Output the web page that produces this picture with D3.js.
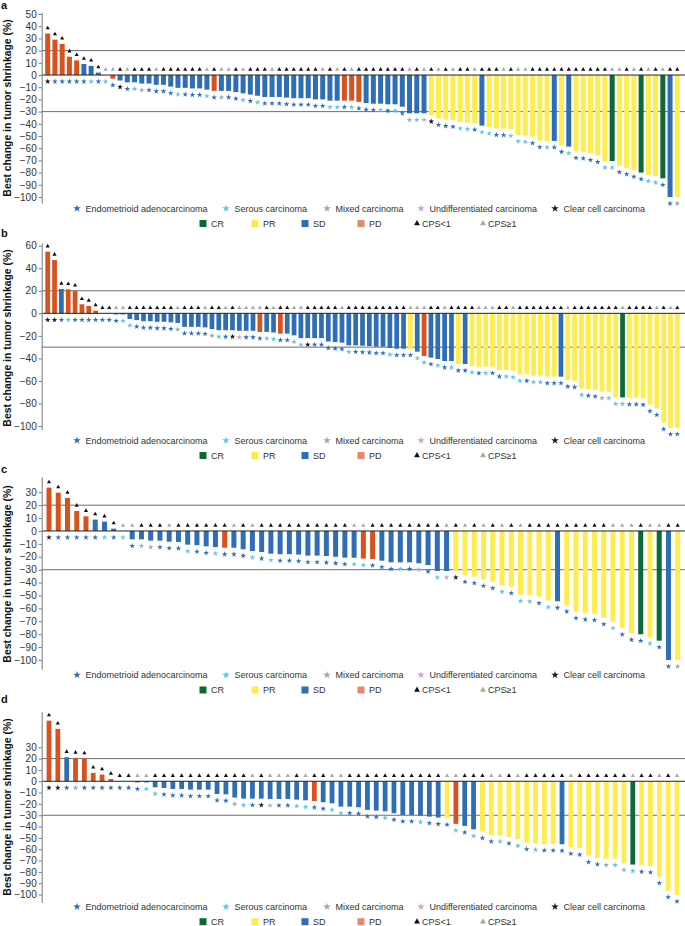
<!DOCTYPE html>
<html>
<head>
<meta charset="utf-8">
<title>Best change in tumor shrinkage</title>
<script src="https://cdn.jsdelivr.net/npm/d3@7"></script>
<style>
  body { margin: 0; background: #fff; }
  svg { display: block; font-family: "Liberation Sans", Arial, sans-serif; }
  .axis .tick text { font-size: 10px; fill: #333; }
  .axis path, .axis line { stroke: #777; }
  .legend text { font-size: 9px; fill: #333; }
</style>
</head>
<body>
<svg id="chart" width="685" height="926"></svg>
<script>
// ---- panel a ----
const aValues = [34,29,25.5,15,12,9,7.5,2,0,-3,
  -4.5,-6,-6,-7,-7,-8,-8,-9.5,-10.5,-10.5,
  -11,-11,-12,-13,-13,-13,-14,-15,-16,-17,
  -18,-18,-18,-18.5,-19,-19,-19,-20,-20,-21,
  -21,-21,-21,-22,-23,-23.5,-23.5,-24,-24,-26,
  -31.4,-31.4,-31.4,-32.8,-35.5,-36.5,-37,-38.5,-39,-39.5,
  -41.5,-42.6,-43.7,-44,-44.5,-49,-49.5,-50.5,-53.8,-54,
  -54,-57.6,-58.7,-62.6,-63,-64.3,-66,-70.5,-70.5,-74.3,
  -76,-78,-80,-81.7,-82.8,-84.7,-100,-100];
const aResponse = ["PD","PD","PD","PD","PD","SD","SD","SD","SD","PD",
  "SD","SD","SD","SD","SD","SD","SD","SD","SD","SD",
  "SD","SD","SD","PD","SD","SD","SD","SD","SD","SD",
  "SD","SD","SD","SD","SD","SD","SD","SD","SD","SD",
  "SD","PD","PD","PD","SD","SD","SD","SD","SD","SD",
  "SD","SD","SD","PR","PR","PR","PR","PR","PR","PR",
  "SD","PR","PR","PR","PR","PR","PR","PR","PR","PR",
  "SD","PR","SD","PR","PR","PR","PR","PR","CR","PR",
  "PR","PR","CR","PR","PR","CR","SD","PR"];
const aHistology = ["C","E","E","E","E","E","S","E","S","E",
  "C","E","S","M","E","E","E","E","S","E",
  "E","E","S","E","M","E","E","S","E","S",
  "E","E","E","E","E","E","E","E","E","S",
  "S","E","S","E","E","E","S","E","S","E",
  "S","S","U","C","E","E","E","S","S","E",
  "S","S","E","E","S","S","S","E","E","S",
  "E","E","S","E","E","E","E","S","S","E",
  "E","E","E","S","S","E","E","M"];
const aCps = [0,0,0,0,0,0,0,0,1,1, 0,1,0,0,0,1,0,0,0,0, 0,0,1,0,1,1,0,1,0,0,
  0,1,0,0,0,0,0,0,1,0, 1,0,1,0,0,0,0,0,0,0, 1,0,1,0,1,0,1,0,0,1,
  0,0,0,1,0,1,1,0,0,0, 0,0,0,0,0,0,0,0,1,1, 0,1,0,1,0,1,0,0];
const aTicks = [50,40,30,20,10,0,-10,-20,-30,-40,-50,-60,-70,-80,-90,-100];

// ---- panel b ----
const bValues = [54.7,47.3,21.6,21.3,20,8,6.5,2.4,0,0,
  -1,-1,-5,-6,-7,-7,-7.5,-7.5,-8,-8.5,
  -12,-12,-12,-12.5,-14,-15,-15,-15,-15.5,-15.5,
  -15.5,-16.5,-16.5,-17,-18,-18,-19.5,-22,-22,-22,
  -22,-25,-25.5,-26,-28.4,-28.4,-28.7,-29,-29.6,-29.6,
  -30.8,-31.4,-31.4,-31.4,-34,-37.9,-39.3,-40.5,-42.3,-42.3,
  -45,-45,-46.7,-47.3,-47.3,-47.3,-50.3,-50.3,-50.9,-54.1,
  -54.1,-55.3,-55.3,-56.2,-56.2,-56.2,-59.2,-59.8,-66.6,-67.2,
  -68,-69.5,-69.5,-74.6,-74.6,-75,-75,-75.4,-81,-84.3,
  -97,-101.5,-101.5];
const bResponse = ["PD","PD","SD","PD","PD","PD","PD","PD","SD","SD",
  "SD","SD","SD","SD","SD","SD","SD","SD","SD","SD",
  "SD","SD","SD","SD","SD","SD","SD","SD","SD","SD",
  "SD","PD","SD","SD","PD","SD","SD","SD","SD","SD",
  "SD","SD","SD","SD","SD","SD","SD","SD","SD","SD",
  "SD","SD","SD","PR","SD","PD","SD","SD","SD","SD",
  "PR","SD","PR","PR","PR","PR","PR","PR","PR","PR",
  "PR","PR","PR","PR","PR","SD","PR","PR","PR","PR",
  "PR","PR","PR","PR","CR","PR","PR","PR","PR","PR",
  "PR","PR","PR"];
const bHistology = ["C","C","E","S","E","E","E","E","E","E",
  "E","S","S","E","E","E","E","E","E","M",
  "E","E","E","E","M","S","E","C","U","E",
  "E","E","S","S","E","E","S","S","C","E",
  "E","E","E","E","S","E","E","E","E","E",
  "S","E","E","E","S","S","E","S","E","S",
  "E","E","S","E","S","E","E","S","S","S",
  "E","S","S","E","E","E","E","E","S","E",
  "E","M","S","S","S","E","E","E","E","E",
  "E","E","E"];
const bCps = [0,0,0,0,0,0,0,0,0,0, 1,1,0,0,0,0,0,0,0,1, 0,0,0,1,0,0,1,0,1,1,
  1,1,0,1,0,0,1,1,0,0, 0,0,0,1,0,0,0,0,0,0, 0,0,0,1,1,1,0,0,1,0,
  0,0,0,1,1,1,0,0,1,0, 0,0,0,0,0,0,1,0,0,0, 0,0,0,0,1,0,0,0,0,1, 0,1,0];
const bTicks = [60,40,20,0,-20,-40,-60,-80,-100];

// ---- panel c ----
const cValues = [33.6,29.7,25.6,15.5,11.4,8.8,7.2,1.8,0,-6.5,
  -6.5,-7.5,-7.5,-8.3,-8.5,-10.6,-11,-11.9,-12.4,-13,
  -13,-14.2,-15.5,-16.3,-17.6,-18,-18,-18.3,-19.1,-19.1,
  -19.4,-20,-20.7,-20.7,-21.4,-21.7,-23,-24.3,-24.3,-24.3,
  -25,-26.4,-31,-31,-31,-34.4,-35.4,-37.5,-39.3,-42.1,
  -43.2,-49.4,-49.6,-50.9,-54,-54.5,-57.4,-62.5,-63.6,-64.1,
  -67.2,-70.3,-75.2,-79.3,-80.1,-82.2,-85,-100,-100];
const cResponse = ["PD","PD","PD","PD","PD","SD","SD","SD","SD","SD",
  "SD","SD","SD","SD","SD","SD","SD","SD","SD","PD",
  "SD","SD","SD","SD","SD","SD","SD","SD","SD","SD",
  "SD","SD","SD","SD","PD","PD","SD","SD","SD","SD",
  "SD","SD","SD","SD","PR","PR","PR","PR","PR","PR",
  "PR","PR","PR","PR","PR","SD","PR","PR","PR","PR",
  "PR","PR","PR","PR","CR","PR","CR","SD","PR"];
const cHistology = ["C","E","E","E","E","E","S","E","S","E",
  "S","M","E","E","E","S","E","E","S","E",
  "E","E","S","E","S","E","E","E","E","E",
  "E","E","E","S","S","E","E","E","S","E",
  "S","E","S","U","C","E","E","E","E","S",
  "E","S","S","E","S","E","E","E","E","E",
  "E","S","E","E","E","S","E","E","M"];
const cCps = [0,0,0,0,0,0,0,0,1,1, 0,0,0,1,0,0,0,0,0,0, 1,0,1,0,0,0,0,0,0,0,
  0,0,0,1,1,0,0,0,0,0, 0,0,0,1,0,1,0,1,0,1, 0,1,0,0,0,0,0,0,0,0,
  0,1,1,1,0,1,1,0,0];
const cTicks = [30,20,10,0,-10,-20,-30,-40,-50,-60,-70,-80,-90,-100];

// ---- panel d ----
const dValues = [53.5,46.2,21.2,20.6,20,7.4,5.9,2,0,0,
  -1,-1,-5.3,-5.9,-6.8,-6.8,-7.4,-7.4,-7.4,-11.2,
  -11.5,-14.4,-15.3,-15.3,-15.3,-15.6,-15.6,-15.6,-16.2,-16.8,
  -17.4,-18.5,-19.4,-22.4,-22.4,-22.9,-25.3,-25.9,-26.5,-28.2,
  -29.7,-29.7,-30.3,-31.2,-32,-32.6,-37.6,-39.4,-42.4,-44.4,
  -47.4,-47.4,-49.1,-51.2,-54.1,-54.7,-55.3,-55.3,-55.6,-58.2,
  -59.1,-65.6,-67.6,-68.2,-68.2,-72.4,-73.5,-74.1,-74.7,-84.1,
  -96.5,-100.3];
const dResponse = ["PD","PD","SD","PD","PD","PD","PD","PD","SD","SD",
  "SD","SD","SD","SD","SD","SD","SD","SD","SD","SD",
  "SD","SD","SD","SD","SD","SD","SD","SD","SD","SD",
  "PD","SD","SD","SD","SD","SD","SD","SD","SD","SD",
  "SD","SD","SD","SD","SD","PR","PD","SD","SD","PR",
  "PR","PR","PR","PR","PR","PR","PR","PR","SD","PR",
  "PR","PR","PR","PR","PR","PR","CR","PR","PR","PR",
  "PR","PR"];
const dHistology = ["C","C","E","S","E","E","E","E","E","E",
  "E","S","S","E","E","E","E","E","E","E",
  "E","M","S","E","C","U","E","E","S","S",
  "E","E","S","S","E","E","E","E","S","E",
  "E","E","S","E","E","E","S","E","S","E",
  "E","S","E","S","E","S","E","E","E","E",
  "E","E","E","M","S","S","S","E","E","E",
  "E","E"];
const dCps = [0,0,0,0,0,0,0,0,0,0, 1,1,0,0,0,0,0,0,0,0, 0,0,0,1,0,1,1,1,0,1,
  0,0,1,1,0,0,0,0,0,0, 0,0,0,0,0,1,1,0,0,0, 1,1,0,1,0,0,0,0,0,1,
  0,0,0,0,0,0,1,0,0,1, 0,1];
const dTicks = [30,20,10,0,-10,-20,-30,-40,-50,-60,-70,-80,-90,-100];

// shared
const refLines = [20, -30];
const histologyKeys = ["E","S","M","U","C"];
const histologyLabels = ["Endometrioid adenocarcinoma","Serous carcinoma","Mixed carcinoma","Undifferentiated carcinoma","Clear cell carcinoma"];
const responseKeys = ["CR","PR","SD","PD"];
const cpsLabels = ["CPS<1","CPS\u22651"];

const histColor = {E:"#2f6cc0", S:"#62c6de", M:"#a4a4a4", U:"#bca7dc", C:"#1a1a1a"};
const respColor = {CR:"#0b6a36", PR:"#ffec4f", SD:"#2f6db5", PD:"#d9511f"};
const respLegendColor = {CR:"#0b6a36", PR:"#ffec4f", SD:"#2f6db5", PD:"#e8886a"};
const cpsColor = ["#111", "#a8a8a8"];

const svg = d3.select("#chart");
svg.append("rect").attr("width", 685).attr("height", 926).attr("fill", "#fff");

const axisX = 41.7;
const star = d3.symbol().type(d3.symbolStar).size(10);
const tri = d3.symbol().type(d3.symbolTriangle).size(7.5);
const legStar = d3.symbol().type(d3.symbolStar).size(18);
const legTri = d3.symbol().type(d3.symbolTriangle).size(15);

const panels = [
  {label:"a", values:aValues, response:aResponse, histology:aHistology, cps:aCps, ticks:aTicks,
   xFirst:47.7, xLast:677.3, pad:0.31, vTop:51.5, vBottom:-105, pxTop:12.2, pxBottom:203.1,
   labelY:8.5, titleY:108, legendY:208.5},
  {label:"b", values:bValues, response:bResponse, histology:bHistology, cps:bCps, ticks:bTicks,
   xFirst:47.7, xLast:677.3, pad:0.31, vTop:62.4, vBottom:-103, pxTop:243, pxBottom:429.4,
   labelY:237, titleY:338, legendY:440.5},
  {label:"c", values:cValues, response:cResponse, histology:cHistology, cps:cCps, ticks:cTicks,
   xFirst:49, xLast:677.7, pad:0.46, vTop:42, vBottom:-107, pxTop:476.8, pxBottom:669,
   labelY:473, titleY:574, legendY:675},
  {label:"d", values:dValues, response:dResponse, histology:dHistology, cps:dCps, ticks:dTicks,
   xFirst:49, xLast:677, pad:0.46, vTop:61.4, vBottom:-107, pxTop:711.7, pxBottom:902.5,
   labelY:703, titleY:807, legendY:906.7}
];

panels.forEach(drawPanel);

function drawPanel(p) {
  const n = p.values.length;
  const step = (p.xLast - p.xFirst) / (n - 1);
  const x = d3.scaleBand()
    .domain(d3.range(n))
    .range([p.xFirst - step / 2, p.xLast + step / 2])
    .paddingInner(p.pad)
    .paddingOuter(p.pad / 2);
  const y = d3.scaleLinear()
    .domain([p.vTop, p.vBottom])
    .range([p.pxTop, p.pxBottom]);

  const g = svg.append("g");
  const data = p.values.map((v, i) => ({i: i, v: v, r: p.response[i], h: p.histology[i], c: p.cps[i]}));

  // reference lines
  g.selectAll(".ref").data(refLines).enter().append("line")
    .attr("x1", axisX).attr("x2", 685)
    .attr("y1", d => y(d)).attr("y2", d => y(d))
    .attr("stroke", "#6f6f6f").attr("stroke-width", 1);

  // bars
  g.selectAll(".bar").data(data).enter().append("rect")
    .attr("x", d => x(d.i))
    .attr("width", x.bandwidth())
    .attr("y", d => y(Math.max(d.v, 0)))
    .attr("height", d => Math.abs(y(d.v) - y(0)))
    .attr("fill", d => respColor[d.r]);

  // zero line
  g.append("line")
    .attr("x1", axisX).attr("x2", 685)
    .attr("y1", y(0)).attr("y2", y(0))
    .attr("stroke", "#222").attr("stroke-width", 1);

  // CPS triangles above
  g.selectAll(".tri").data(data).enter().append("path")
    .attr("d", tri)
    .attr("transform", d => `translate(${x(d.i) + x.bandwidth() / 2},${y(Math.max(d.v, 0)) - 5.5})`)
    .attr("fill", d => cpsColor[d.c]);

  // histology stars below
  g.selectAll(".star").data(data).enter().append("path")
    .attr("d", star)
    .attr("transform", d => `translate(${x(d.i) + x.bandwidth() / 2},${y(Math.min(d.v, 0)) + 6.5})`)
    .attr("fill", d => histColor[d.h]);

  // y axis
  g.append("g")
    .attr("class", "axis")
    .attr("transform", `translate(${axisX},0)`)
    .call(d3.axisLeft(y).tickValues(p.ticks).tickSize(3).tickSizeOuter(0).tickPadding(2));

  // axis title
  g.append("text")
    .attr("transform", `translate(10.5,${p.titleY}) rotate(-90)`)
    .attr("text-anchor", "middle")
    .attr("font-size", "10.4px")
    .attr("font-weight", "bold")
    .attr("fill", "#111")
    .text("Best change in tumor shrinkage (%)");

  // panel label
  g.append("text")
    .attr("x", 1).attr("y", p.labelY)
    .attr("font-size", "11px").attr("font-weight", "bold").attr("fill", "#111")
    .text(p.label);

  // legend
  const leg = g.append("g").attr("class", "legend");
  const histX = [77, 226, 327, 421, 555];
  histologyKeys.forEach((k, i) => {
    leg.append("path").attr("d", legStar)
      .attr("transform", `translate(${histX[i]},${p.legendY})`)
      .attr("fill", histColor[k]);
    leg.append("text").attr("x", histX[i] + 8.5).attr("y", p.legendY).attr("dy", "0.35em")
      .text(histologyLabels[i]);
  });
  const row2 = p.legendY + 15;
  const respX = [203, 255, 305, 361];
  responseKeys.forEach((k, i) => {
    leg.append("rect").attr("x", respX[i] - 3.5).attr("y", row2 - 3.5)
      .attr("width", 7).attr("height", 7).attr("fill", respLegendColor[k]);
    leg.append("text").attr("x", respX[i] + 8).attr("y", row2).attr("dy", "0.35em").text(k);
  });
  const cpsX = [417, 483];
  cpsLabels.forEach((t, i) => {
    leg.append("path").attr("d", legTri)
      .attr("transform", `translate(${cpsX[i]},${row2})`)
      .attr("fill", cpsColor[i]);
    leg.append("text").attr("x", cpsX[i] + 5).attr("y", row2).attr("dy", "0.35em").text(t);
  });
}
</script>
</body>
</html>
